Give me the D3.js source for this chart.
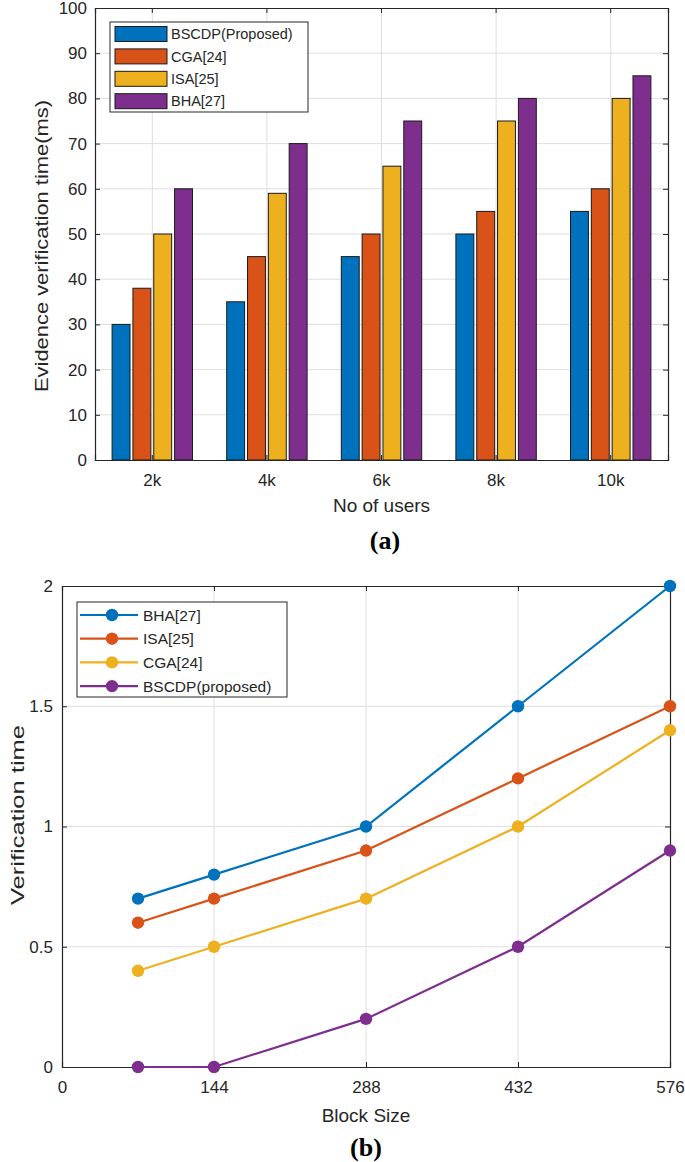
<!DOCTYPE html>
<html><head><meta charset="utf-8">
<script src="https://cdn.jsdelivr.net/npm/d3@7"></script>
<style>body{margin:0;background:#fff}svg{display:block}text{font-family:"Liberation Sans",Arial,sans-serif;fill:#262626}</style>
</head><body>
<svg id="c" width="685" height="1162"></svg>
<script>
// ---- Chart (a) data ----
const usersCategories = ["2k","4k","6k","8k","10k"];
const barSeriesNames = ["BSCDP(Proposed)","CGA[24]","ISA[25]","BHA[27]"];
const bscdpA = [30,35,45,50,55];
const cgaA   = [38,45,50,55,60];
const isaA   = [50,59,65,75,80];
const bhaA   = [60,70,75,80,85];
const yTicksA = [0,10,20,30,40,50,60,70,80,90,100];

// ---- Chart (b) data ----
const blockSizes = [72,144,288,432,576];
const lineSeriesNames = ["BHA[27]","ISA[25]","CGA[24]","BSCDP(proposed)"];
const bhaB   = [0.7,0.8,1.0,1.5,2.0];
const isaB   = [0.6,0.7,0.9,1.2,1.5];
const cgaB   = [0.4,0.5,0.7,1.0,1.4];
const bscdpB = [0,0,0.2,0.5,0.9];
const xTicksB = [0,144,288,432,576];
const yTicksB = [0,0.5,1,1.5,2];

const C = {blue:"#0072BD",orange:"#D95319",yellow:"#EDB120",purple:"#7E2F8E"};
const axisCol="#262626", gridCol="#dedede";
const svg = d3.select("#c");

// ================= Chart (a) =================
(function(){
  const L=95,R=668,T=8,B=460;
  const seriesVals=[bscdpA,cgaA,isaA,bhaA];
  const colors=[C.blue,C.orange,C.yellow,C.purple];
  const x=d3.scaleBand().domain(usersCategories).range([L,R]).padding(0);
  const y=d3.scaleLinear().domain([0,100]).range([B,T]);
  const gw=x.bandwidth()*0.727;
  const xs=d3.scaleBand().domain(barSeriesNames).range([-gw/2,gw/2]).paddingInner(0.14).paddingOuter(0.07);
  const g=svg.append("g");
  // grid
  g.selectAll(".gy").data(yTicksA.slice(1,-1)).enter().append("line")
    .attr("x1",L).attr("x2",R).attr("y1",d=>y(d)).attr("y2",d=>y(d)).attr("stroke",gridCol);
  g.selectAll(".gx").data(usersCategories).enter().append("line")
    .attr("x1",d=>x(d)+x.bandwidth()/2).attr("x2",d=>x(d)+x.bandwidth()/2).attr("y1",T).attr("y2",B).attr("stroke",gridCol);
  // bars
  seriesVals.forEach((vals,si)=>{
    g.selectAll(".b"+si).data(vals).enter().append("rect")
      .attr("x",(d,i)=>x(usersCategories[i])+x.bandwidth()/2+xs(barSeriesNames[si]))
      .attr("width",xs.bandwidth())
      .attr("y",d=>y(d)).attr("height",d=>B-y(d))
      .attr("fill",colors[si]).attr("stroke","#1a1a1a").attr("stroke-width",1);
  });
  // axes
  const ax=d3.axisBottom(x).tickSize(-5).tickPadding(14);
  const gx=g.append("g").attr("transform",`translate(0,${B})`).call(ax);
  const axT=d3.axisTop(x).tickSize(-5).tickFormat("");
  const gxt=g.append("g").attr("transform",`translate(0,${T})`).call(axT);
  const ay=d3.axisLeft(y).tickValues(yTicksA).tickSize(-5).tickPadding(8);
  const gy=g.append("g").attr("transform",`translate(${L},0)`).call(ay);
  const ayr=d3.axisRight(y).tickValues(yTicksA).tickSize(-5).tickFormat("");
  const gyr=g.append("g").attr("transform",`translate(${R},0)`).call(ayr);
  [gx,gxt,gy,gyr].forEach(a=>{a.selectAll("path").attr("stroke",axisCol).attr("stroke-width",1.2);
    a.selectAll("line").attr("stroke",axisCol);
    a.selectAll("text").attr("font-size",17).attr("fill",axisCol).attr("font-family","Liberation Sans, Arial, sans-serif");});
  gx.selectAll("text").attr("dy","0.71em");
  // labels
  g.append("text").attr("x",(L+R)/2).attr("y",512).attr("text-anchor","middle").attr("font-size",19).text("No of users");
  g.append("text").attr("transform","translate(48,246) rotate(-90)").attr("text-anchor","middle").attr("font-size",19)
    .attr("textLength",292).attr("lengthAdjust","spacingAndGlyphs").text("Evidence verification time(ms)");
  g.append("text").attr("x",385).attr("y",549).attr("text-anchor","middle").attr("font-size",26).attr("font-weight","bold")
    .style("font-family","Liberation Serif, Times New Roman, serif").style("fill","#000").text("(a)");
  // legend
  const lg=g.append("g");
  lg.append("rect").attr("x",110).attr("y",22).attr("width",198).attr("height",90).attr("fill","#fff").attr("stroke",axisCol).attr("stroke-width",1);
  barSeriesNames.forEach((n,i)=>{
    const cy=34+i*22.4;
    lg.append("rect").attr("x",115).attr("y",cy-7.5).attr("width",52).attr("height",15).attr("fill",colors[i]).attr("stroke","#1a1a1a");
    lg.append("text").attr("x",171).attr("y",cy).attr("dy","0.36em").attr("font-size",14.5).text(n);
  });
})();

// ================= Chart (b) =================
(function(){
  const L=62,R=670,T=586,B=1067;
  const seriesVals=[bhaB,isaB,cgaB,bscdpB];
  const colors=[C.blue,C.orange,C.yellow,C.purple];
  const x=d3.scaleLinear().domain([0,576]).range([L,R]);
  const y=d3.scaleLinear().domain([0,2]).range([B,T]);
  const g=svg.append("g");
  g.selectAll(".gy").data(yTicksB.slice(1,-1)).enter().append("line")
    .attr("x1",L).attr("x2",R).attr("y1",d=>y(d)).attr("y2",d=>y(d)).attr("stroke",gridCol);
  g.selectAll(".gx").data(xTicksB.slice(1,-1)).enter().append("line")
    .attr("x1",d=>x(d)).attr("x2",d=>x(d)).attr("y1",T).attr("y2",B).attr("stroke",gridCol);
  const ax=d3.axisBottom(x).tickValues(xTicksB).tickSize(-5).tickPadding(14);
  const gx=g.append("g").attr("transform",`translate(0,${B})`).call(ax);
  const gxt=g.append("g").attr("transform",`translate(0,${T})`).call(d3.axisTop(x).tickValues(xTicksB).tickSize(-5).tickFormat(""));
  const gy=g.append("g").attr("transform",`translate(${L},0)`).call(d3.axisLeft(y).tickValues(yTicksB).tickSize(-5).tickPadding(9).tickFormat(d3.format("~g")));
  const gyr=g.append("g").attr("transform",`translate(${R},0)`).call(d3.axisRight(y).tickValues(yTicksB).tickSize(-5).tickFormat(""));
  [gx,gxt,gy,gyr].forEach(a=>{a.selectAll("path").attr("stroke",axisCol).attr("stroke-width",1.2);
    a.selectAll("line").attr("stroke",axisCol);
    a.selectAll("text").attr("font-size",17).attr("fill",axisCol).attr("font-family","Liberation Sans, Arial, sans-serif");});
  gx.selectAll("text").attr("dy","0.71em");
  const line=d3.line().x((d,i)=>x(blockSizes[i])).y(d=>y(d));
  seriesVals.forEach((vals,si)=>{
    g.append("path").datum(vals).attr("d",line).attr("fill","none").attr("stroke",colors[si]).attr("stroke-width",2.2);
    g.selectAll(".m"+si).data(vals).enter().append("circle")
      .attr("cx",(d,i)=>x(blockSizes[i])).attr("cy",d=>y(d)).attr("r",6.2).attr("fill",colors[si]);
  });
  g.append("text").attr("x",366).attr("y",1122).attr("text-anchor","middle").attr("font-size",19).text("Block Size");
  g.append("text").attr("transform","translate(24,815) rotate(-90)").attr("text-anchor","middle").attr("font-size",19)
    .attr("textLength",180).attr("lengthAdjust","spacingAndGlyphs").text("Verification time");
  g.append("text").attr("x",366).attr("y",1156).attr("text-anchor","middle").attr("font-size",26).attr("font-weight","bold")
    .style("font-family","Liberation Serif, Times New Roman, serif").style("fill","#000").text("(b)");
  const lg=g.append("g");
  lg.append("rect").attr("x",77).attr("y",602).attr("width",210).attr("height",95).attr("fill","#fff").attr("stroke",axisCol).attr("stroke-width",1);
  lineSeriesNames.forEach((n,i)=>{
    const cy=615+i*23.7;
    lg.append("line").attr("x1",80).attr("x2",138).attr("y1",cy).attr("y2",cy).attr("stroke",colors[i]).attr("stroke-width",2.2);
    lg.append("circle").attr("cx",112).attr("cy",cy).attr("r",6.2).attr("fill",colors[i]);
    lg.append("text").attr("x",143).attr("y",cy).attr("dy","0.36em").attr("font-size",15.5).text(n);
  });
})();
</script>
</body></html>
